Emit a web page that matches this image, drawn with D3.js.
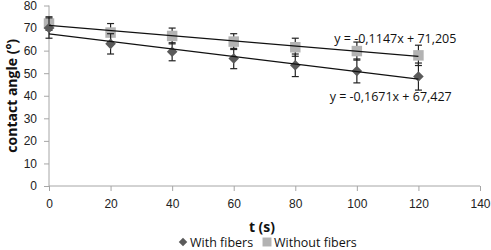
<!DOCTYPE html>
<html>
<head>
<meta charset="utf-8">
<script src="https://cdn.jsdelivr.net/npm/d3@7"></script>
<style>
  body { margin: 0; background: #fff; }
  svg { font-family: "Open Sans", "Liberation Sans", sans-serif; }
  .axis path, .axis line { stroke: #a6a6a6; }
  .axis text { fill: #222; font-size: 12px; }
</style>
</head>
<body>
<svg id="chart" width="491" height="250"></svg>
<script>
// time points (s)
const times = [0, 20, 40, 60, 80, 100, 120]
// contact angle with fibers, and its error (°)
const withFibers = [70, 63, 59.5, 56.5, 53.5, 51, 48.5]
const withFibersErr = [4.5, 4.5, 4, 4.5, 5, 5.3, 6]
// contact angle without fibers, and its error (°)
const withoutFibers = [72, 68, 66.5, 64, 61.5, 59.8, 57.9]
const withoutFibersErr = [3, 4, 3.5, 3.5, 4, 4, 4.5]
// linear fits: [slope, intercept, label]
const fitWith = [-0.1671, 67.427, 'y = -0,1671x + 67,427']
const fitWithout = [-0.1147, 71.205, 'y = -0,1147x + 71,205']
const xTicks = [0, 20, 40, 60, 80, 100, 120, 140]
const yTicks = [0, 10, 20, 30, 40, 50, 60, 70, 80]

const svg = d3.select('#chart')
const margins = {top: 5.5, right: 11, bottom: 64, left: 49}
const width = 491 - margins.left - margins.right
const height = 250 - margins.top - margins.bottom

const g = svg.append('g').attr('transform', `translate(${margins.left}, ${margins.top})`)

const x = d3.scaleLinear().domain([0, 140]).range([0, width])
const y = d3.scaleLinear().domain([0, 80]).range([height, 0])

g.append('g')
  .attr('class', 'axis axis--y')
  .call(d3.axisLeft(y).tickValues(yTicks).tickSize(5).tickPadding(7))
  .call((a) => a.select('.domain').attr('d', `M0,${height}V0`))

g.append('g')
  .attr('class', 'axis axis--x')
  .attr('transform', `translate(0, ${height})`)
  .call(d3.axisBottom(x).tickValues(xTicks).tickSize(5).tickPadding(8))
  .call((a) => a.select('.domain').attr('d', `M0,0H${width}`))

// diamonds are squares turned by 45 degrees
const series = [
  {vals: withoutFibers, err: withoutFibersErr, fit: fitWithout, color: '#b3b3b3', size: 110, rot: 0},
  {vals: withFibers, err: withFibersErr, fit: fitWith, color: '#5a5a5a', size: 56, rot: 45},
]

series.forEach((s) => {
  const pts = times.map((t, i) => ({t, v: s.vals[i], e: s.err[i]}))
  const eb = g.append('g').attr('stroke', '#222').attr('stroke-width', 1.2)
  pts.forEach((d) => {
    eb.append('line').attr('x1', x(d.t)).attr('x2', x(d.t)).attr('y1', y(d.v - d.e)).attr('y2', y(d.v + d.e))
    ;[d.v - d.e, d.v + d.e].forEach((v) => {
      eb.append('line').attr('x1', x(d.t) - 3.5).attr('x2', x(d.t) + 3.5).attr('y1', y(v)).attr('y2', y(v))
    })
  })
  g.append('g')
    .selectAll('path')
    .data(pts)
    .enter()
    .append('path')
    .attr('d', d3.symbol().type(d3.symbolSquare).size(s.size))
    .attr('transform', (d) => `translate(${x(d.t)}, ${y(d.v)}) rotate(${s.rot})`)
    .attr('fill', s.color)
})

// trend lines on top
series.forEach((s) => {
  const [m, b] = s.fit
  g.append('line')
    .attr('x1', x(0)).attr('y1', y(b))
    .attr('x2', x(120)).attr('y2', y(b + m * 120))
    .attr('stroke', '#111').attr('stroke-width', 1.2)
})

g.append('text').attr('x', x(112.5)).attr('y', y(63.5)).attr('text-anchor', 'middle')
  .attr('font-size', 12.5).attr('fill', '#111').text(fitWithout[2])
g.append('text').attr('x', x(111)).attr('y', y(37.5)).attr('text-anchor', 'middle')
  .attr('font-size', 12.5).attr('fill', '#111').text(fitWith[2])

svg.append('text')
  .attr('transform', `translate(17, ${margins.top + height / 2}) rotate(-90)`)
  .attr('text-anchor', 'middle')
  .attr('font-weight', 'bold').attr('font-size', 14).attr('fill', '#111')
  .text('contact angle (°)')

svg.append('text')
  .attr('x', 262).attr('y', 232).attr('text-anchor', 'middle')
  .attr('font-weight', 'bold').attr('font-size', 14).attr('fill', '#111')
  .text('t (s)')

const legend = svg.append('g').attr('font-size', 12.5).attr('fill', '#111')
legend.append('path').attr('d', d3.symbol().type(d3.symbolSquare).size(36)())
  .attr('transform', 'translate(183, 242) rotate(45)').attr('fill', '#5a5a5a')
legend.append('text').attr('x', 190).attr('y', 246.5).text('With fibers')
legend.append('path').attr('d', d3.symbol().type(d3.symbolSquare).size(80)())
  .attr('transform', 'translate(267, 242)').attr('fill', '#b3b3b3')
legend.append('text').attr('x', 274).attr('y', 246.5).text('Without fibers')
</script>
</body>
</html>
